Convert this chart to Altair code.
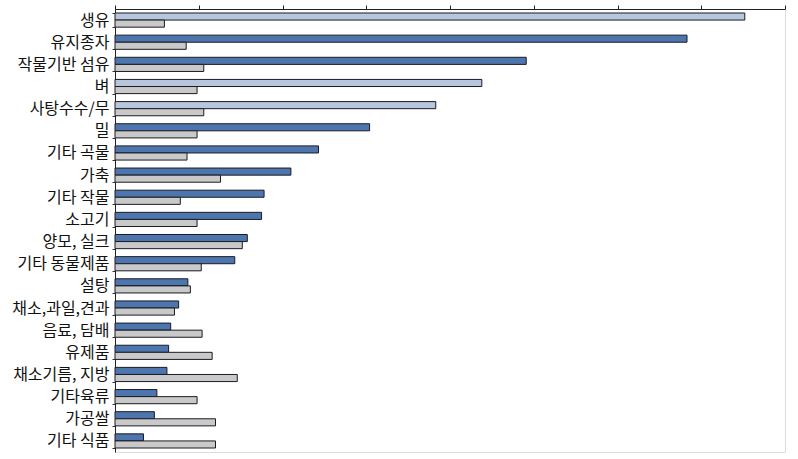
import altair as alt
import pandas as pd

categories = ["생유", "유지종자", "작물기반 섬유", "벼", "사탕수수/무", "밀", "기타 곡물", "가축",
              "기타 작물", "소고기", "양모, 실크", "기타 동물제품", "설탕", "채소,과일,견과",
              "음료, 담배", "유제품", "채소기름, 지방", "기타육류", "가공쌀", "기타 식품"]
series_a = [7.52, 6.83, 4.91, 4.38, 3.83, 3.04, 2.43, 2.10, 1.78, 1.75, 1.58, 1.43,
            0.87, 0.76, 0.665, 0.64, 0.62, 0.50, 0.47, 0.34]
series_b = [0.59, 0.85, 1.06, 0.98, 1.06, 0.98, 0.86, 1.26, 0.78, 0.98, 1.52, 1.03,
            0.90, 0.71, 1.04, 1.16, 1.46, 0.98, 1.20, 1.20]
light_a = ["생유", "벼", "사탕수수/무"]
x_ticks = [0, 1, 2, 3, 4, 5, 6, 7, 8]

rows = []
for c, a, b in zip(categories, series_a, series_b):
    rows.append({"category": c, "series": "a", "value": a,
                 "tone": "a_light" if c in light_a else "a"})
    rows.append({"category": c, "series": "b", "value": b, "tone": "b"})
df = pd.DataFrame(rows)

chart = alt.Chart(df).mark_bar(stroke="#1b1b24", strokeWidth=1).encode(
    y=alt.Y("category:N", sort=categories,
            scale=alt.Scale(paddingInner=0.36, paddingOuter=0.18),
            axis=alt.Axis(title=None, labelFontSize=16, labelFont="Noto Sans CJK KR",
                          labelColor="#111111", tickBand="extent", tickSize=3,
                          tickColor="#333333", labelPadding=3, domainColor="#222222",
                          labelLimit=200)),
    yOffset=alt.YOffset("series:N", scale=alt.Scale(paddingInner=0, paddingOuter=0)),
    x=alt.X("value:Q", scale=alt.Scale(domain=[0, 8], nice=False),
            axis=alt.Axis(orient="top", title=None, labels=False,
                          values=x_ticks, grid=False, labelOverlap=False,
                          tickSize=4, tickColor="#222222", domainColor="#222222")),
    color=alt.Color("tone:N", scale=alt.Scale(domain=["a", "a_light", "b"],
                                              range=["#4d76ae", "#b6c6dc", "#c9c9c9"]),
                    legend=None),
).properties(
    width=670, height=443,
    padding={"left": 115, "top": 9, "right": 13, "bottom": 7},
    autosize=alt.AutoSizeParams(type="none"),
).configure_view(
    fill="#f0fdfe", stroke="#222222", strokeWidth=1.5
).configure(background="white")

chart.save("out.html", embed_options={"renderer": "svg", "actions": False})
